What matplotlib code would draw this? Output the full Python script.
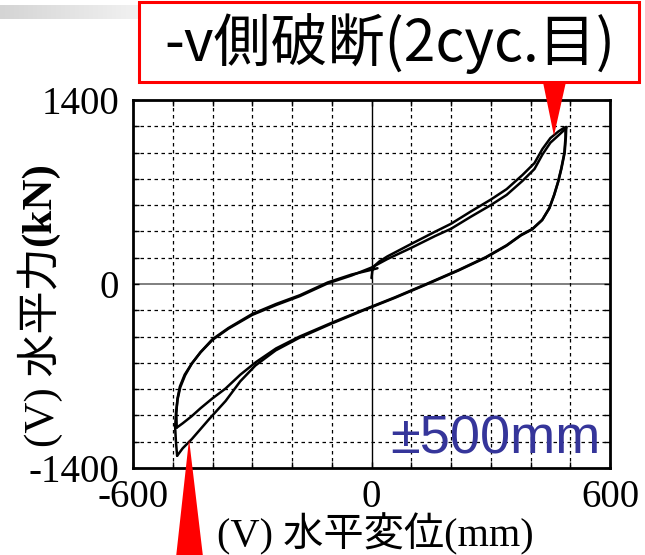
import numpy as np
import matplotlib
matplotlib.use("Agg")
import matplotlib.pyplot as plt
from matplotlib.patches import Rectangle, Polygon
from matplotlib.transforms import ScaledTranslation

W, H, DPI = 645, 555, 100

# ---------------- data: horizontal displacement (mm) / horizontal force (kN) ----------------
# first loading from the origin up to the +500 mm peak
load0_disp = [0, 2, 8, 20, 40, 100, 160, 200, 250, 300, 340, 380, 410, 430, 450, 470, 485, 490]
load0_force = [45, 100, 140, 172, 210, 305, 398, 458, 552, 642, 722, 830, 920, 1027, 1110, 1160, 1190, 1195]

# cycle 1: unloading from + peak to - peak
c1_down_disp = [490, 489, 486, 478, 470, 460, 448, 430, 405, 377, 340, 288, 220, 138, 60, -23,
                -100, -181, -240, -291, -330, -367, -400, -430, -452, -475, -490]
c1_down_force = [1193, 1120, 1000, 880, 780, 680, 580, 490, 420, 375, 295, 205, 108, 0, -100, -200,
                 -295, -400, -490, -595, -690, -795, -870, -945, -1005, -1060, -1093]

# cycle 1: reloading from - peak to + peak
c1_up_disp = [-490, -491, -488, -482, -470, -452, -430, -400, -360, -300, -240, -180, -110, -50,
              0, 40, 100, 160, 200, 250, 300, 340, 380, 410, 430, 450, 470, 485, 490]
c1_up_force = [-1093, -980, -870, -780, -690, -605, -520, -425, -340, -235, -160, -92, 5, 65,
               125, 190, 275, 365, 420, 512, 600, 678, 785, 875, 985, 1075, 1130, 1172, 1188]

# cycle 2: unloading from + peak to - peak (fracture side)
c2_down_disp = [488, 488, 485, 477, 469, 459, 447, 429, 404, 376, 339, 287, 219, 137, 59, -24,
                -101, -182, -241, -292, -330, -367, -409, -452, -475, -489]
c2_down_force = [1188, 1115, 995, 875, 775, 675, 575, 485, 415, 370, 290, 200, 103, -5, -105, -205,
                 -302, -410, -505, -620, -740, -890, -1030, -1180, -1250, -1307]

# cycle 2: return from - peak towards the origin
c2_up_disp = [-489, -492, -494, -492, -488, -481, -469, -452, -430, -400, -360, -300, -240, -180,
              -110, -50, 0, 15]
c2_up_force = [-1307, -1200, -1090, -985, -880, -785, -695, -605, -518, -420, -335, -228, -152, -85,
               12, 72, 108, 120]

x_ticks = [-600, 0, 600]
x_tick_labels = ["-600", "0", "600"]
y_ticks = [-1400, 0, 1400]
y_tick_labels = ["-1400", "0", "1400"]
x_grid = [-500, -400, -300, -200, -100, 100, 200, 300, 400, 500]
y_grid = [-1200, -1000, -800, -600, -400, -200, 200, 400, 600, 800, 1000, 1200]

# points marked by the red pointers
fracture_top = (459, 1128)
fracture_bottom = (-459, -1181)

title_text = "-v側破断(2cyc.目)"
amp_text = "±500mm"
x_label = "(V) 水平変位(mm)"
y_label_main = "(V) 水平力"
y_label_unit = "(kN)"

# ---------------- figure ----------------
fig = plt.figure(figsize=(W / DPI, H / DPI), dpi=DPI)
fig.patch.set_facecolor("white")
ax = fig.add_axes([133 / W, 1 - 468 / H, 477 / W, 368 / H])

ax.set_xlim(-600, 600)
ax.set_ylim(-1400, 1400)

ax.set_xticks(x_ticks)
ax.set_xticklabels(x_tick_labels)
ax.set_yticks(y_ticks)
ax.set_yticklabels(y_tick_labels)
ax.set_xticks(x_grid, minor=True)
ax.set_yticks(y_grid, minor=True)

serif = ["Liberation Serif", "Noto Sans CJK JP"]
lift = ScaledTranslation(0, 4 / DPI, fig.dpi_scale_trans)
for lab in ax.get_xticklabels() + ax.get_yticklabels():
    lab.set_fontfamily(serif)
    lab.set_fontsize(28)
for lab in ax.get_yticklabels():
    lab.set_transform(lab.get_transform() + lift)

ax.tick_params(which="both", direction="in", length=4, width=1.0,
               top=True, right=True, color="black")
ax.tick_params(axis="y", which="major", pad=10)
ax.tick_params(axis="x", which="major", pad=8)

ax.grid(which="minor", color="black", linestyle=(0, (2.8, 2.8)), linewidth=0.9)
ax.axvline(0, color="black", linewidth=1.0, zorder=1.5)
ax.axhline(0, color="#7f7f7f", linewidth=1.4, zorder=1.5)

for sp in ax.spines.values():
    sp.set_linewidth(2.0)
    sp.set_color("black")

line_kw = dict(color="black", linewidth=1.8, solid_joinstyle="round", solid_capstyle="round", zorder=3)
ax.plot(load0_disp, load0_force, **line_kw)
ax.plot(c1_down_disp, c1_down_force, **line_kw)
ax.plot(c1_up_disp, c1_up_force, **line_kw)
ax.plot(c2_down_disp, c2_down_force, **line_kw)
ax.plot(c2_up_disp, c2_up_force, **line_kw)

# amplitude label
fig.text(601 / W, 1 - 453 / H, amp_text, ha="right", va="baseline",
         fontsize=39, color="#35359a", family=["Liberation Sans", "Noto Sans CJK JP"])

# axis labels
fig.text(375 / W, 1 - 555 / H, x_label, ha="center", va="bottom",
         fontsize=29, family=serif)
ylab = fig.text(40 / W, 1 - 447 / H, y_label_main, ha="center", va="bottom", rotation=90,
                fontsize=31, family=serif)

# grey header strip
grad = np.linspace(0.0, 1.0, 256)[None, :]
strip = fig.add_axes([0, 1 - 19 / H, 140 / W, 14 / H])
strip.imshow(grad, aspect="auto", cmap=matplotlib.colors.LinearSegmentedColormap.from_list(
    "strip", ["#d4d4d4", "#f2f2f2"]))
strip.axis("off")

# callout box
fig.patches.append(Rectangle((139, H - 82), 500, 80, transform=None, facecolor="white",
                             edgecolor="#ff0000", linewidth=2.2, zorder=5))
fig.text(390 / W, 1 - 44 / H, title_text, ha="center", va="center", fontsize=41,
         family=["Noto Sans CJK JP"], zorder=6)

fig.canvas.draw()
renderer = fig.canvas.get_renderer()

# unit part of the y label continues right after the main part
bb = ylab.get_window_extent(renderer)
fig.text(40 / W, (bb.y1 + 2) / H, y_label_unit, ha="center", va="bottom", rotation=90,
         fontsize=31, family=serif, fontweight="bold")

# red pointers anchored to the curve
tx, ty = ax.transData.transform(fracture_top)
fig.patches.append(Polygon([(tx - 11, H - 82), (tx + 12, H - 82), (tx, ty)], closed=True,
                           transform=None, facecolor="#ff0000", edgecolor="none", zorder=6))
bx, by = ax.transData.transform(fracture_bottom)
fig.patches.append(Polygon([(bx - 13, -2), (bx + 14, -2), (bx, by)], closed=True,
                           transform=None, facecolor="#ff0000", edgecolor="none", zorder=6,
                           clip_on=False))

fig.savefig("out.png", dpi=DPI)
